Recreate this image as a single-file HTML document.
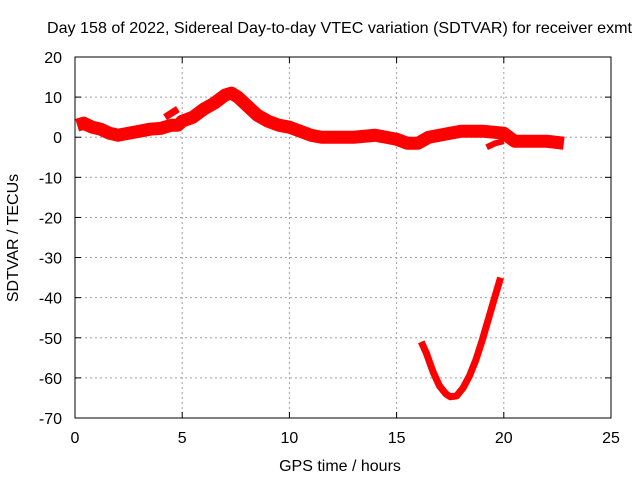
<!DOCTYPE html>
<html><head><meta charset="utf-8"><style>
body{margin:0;background:#fff;font-family:"Liberation Sans",sans-serif}
svg text{font-family:"Liberation Sans",sans-serif;font-size:16px;fill:#000}
</style></head><body>
<svg id="c" width="640" height="480">
<g id="grid"></g>
<g id="series"></g>
<rect x="75" y="57" width="536" height="361" fill="none" stroke="#000"/>
<g id="axes"></g>
<text x="47" y="33" textLength="585" lengthAdjust="spacingAndGlyphs">Day 158 of 2022, Sidereal Day-to-day VTEC variation (SDTVAR) for receiver exmt</text>
<text x="340" y="471" text-anchor="middle">GPS time / hours</text>
<text transform="translate(18,238) rotate(-90)" text-anchor="middle">SDTVAR / TECUs</text>
</svg>
<script>
const xTicks=[0,5,10,15,20,25];
const yTicks=[20,10,0,-10,-20,-30,-40,-50,-60,-70];
const mainHours=[0.1,0.4,0.8,1.2,1.6,2,2.5,3,3.5,4,4.5,4.8,5,5.5,6,6.5,7,7.3,7.6,8,8.5,9,9.5,10,10.5,11,11.5,12,13,14,15,15.5,16,16.5,17,18,19,20,20.5,21,22,22.8];
const mainVals=[3,3.5,2.5,2,1,0.5,1,1.5,2,2.2,3,3,4,5,7,8.5,10.5,11,10,8,5.5,4,3,2.5,1.5,0.5,0,0,0,0.5,-0.5,-1.5,-1.5,0,0.5,1.5,1.5,1,-1,-1,-1,-1.5];
const spurHours=[4.2,4.5,4.8];
const spurVals=[5,6,7];
const spur2Hours=[19.2,19.6,20];
const spur2Vals=[-2.5,-1.5,-1];
const arcHours=[16.15,16.4,16.7,17,17.3,17.5,17.8,18.1,18.4,18.7,19,19.3,19.6,19.85];
const arcVals=[-51,-54,-58.5,-62,-64,-64.7,-64.5,-62.5,-59.5,-55.5,-50.5,-45,-39.5,-35];
const X=h=>75+h*536/25, Y=v=>57+(20-v)*361/90;
const NS='http://www.w3.org/2000/svg';
function mk(t,a,p){const e=document.createElementNS(NS,t);for(const k in a)e.setAttribute(k,a[k]);document.getElementById(p).appendChild(e);return e;}
xTicks.forEach(t=>{
 if(t>0&&t<25){const g=mk('line',{x1:X(t),x2:X(t),y1:57,y2:418,stroke:'#a0a0a0','stroke-dasharray':'2,3'},'grid');
 
 }
 mk('line',{x1:X(t),x2:X(t),y1:418,y2:412,stroke:'#000'},'axes');
 mk('line',{x1:X(t),x2:X(t),y1:57,y2:63,stroke:'#000'},'axes');
 const l=mk('text',{x:X(t),y:443,'text-anchor':'middle'},'axes');l.textContent=t;
 
 
});
yTicks.forEach(t=>{
 if(t<20&&t>-70){const g=mk('line',{x1:75,x2:611,y1:Y(t),y2:Y(t),stroke:'#a0a0a0','stroke-dasharray':'2,3'},'grid');
 
 }
 mk('line',{x1:75,x2:81,y1:Y(t),y2:Y(t),stroke:'#000'},'axes');
 mk('line',{x1:611,x2:605,y1:Y(t),y2:Y(t),stroke:'#000'},'axes');
 const l=mk('text',{x:62,y:Y(t)+6,'text-anchor':'end'},'axes');l.textContent=t;
 
 
});
function line(hs,vs,w,name){
 const p=mk('polyline',{points:hs.map((h,i)=>X(h)+','+Y(vs[i])).join(' '),fill:'none',stroke:'#ff0000','stroke-width':w,'stroke-linejoin':'round','stroke-linecap':'butt'},'series');
 
 
}
line(mainHours,mainVals,13,'main-band');
line(spurHours,spurVals,7,'spur-band');
line(spur2Hours,spur2Vals,6,'spur2-band');
line(arcHours,arcVals,7,'arc-band');
</script>
</body></html>
